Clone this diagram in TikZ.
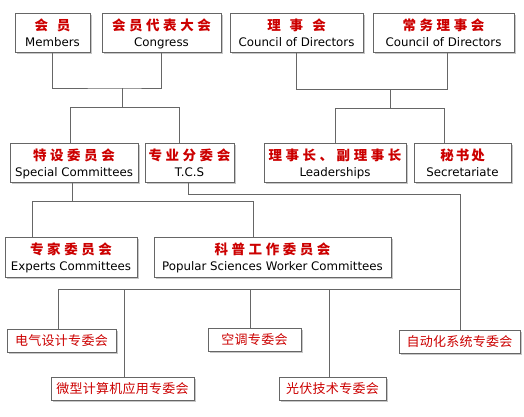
\documentclass[tikz,border=0pt]{standalone}
\usepackage{fontspec}
\usetikzlibrary{shadows}
\setmainfont{DejaVu Sans}
\newfontfamily\cnbold{Noto Sans CJK SC}[LetterSpace=26]
\newfontfamily\cnreg{Noto Sans CJK SC}[LetterSpace=2]
\definecolor{cnred}{HTML}{CC0000}
\definecolor{boxgray}{HTML}{666666}
\newcommand{\zh}[1]{\raisebox{0pt}[11pt][0pt]{\color{cnred}\fontsize{13.5}{16}\cnbold\bfseries #1}}
\newcommand{\en}[1]{\raisebox{0pt}[9pt][0pt]{\fontsize{11.8}{16}\selectfont #1}}
\newcommand{\zs}[1]{\raisebox{0pt}[9.8pt][0pt]{\color{cnred}\fontsize{13}{15}\cnreg #1}}
\tikzset{
  box/.style={draw=boxgray, line width=1pt, fill=white, inner sep=0pt, align=center,
    font=\fontsize{11.8}{16}\selectfont,
    drop shadow={shadow xshift=1.8pt, shadow yshift=-1.8pt, fill=black!22, opacity=1}},
  bsize/.style 2 args={minimum width=#1pt, minimum height=#2pt},
  conn/.style={draw=boxgray, line width=1pt},
}
\begin{document}
\begin{tikzpicture}[x=1pt,y=-1pt]
\useasboundingbox[fill=white] (0,0) rectangle (524,416);
% top row
\node[box, bsize={75}{39}] (mem) at (52.5,32.5) {\zh{会\hspace{9pt}员}\\\en{Members}};
\node[box, bsize={119}{39}] (con) at (161.5,32.5) {\zh{会员代表大会}\\\en{Congress}};
\node[box, bsize={133}{39}] (cd1) at (296.5,32.5) {\zh{理\hspace{9pt}事\hspace{9pt}会}\\\en{Council of Directors}};
\node[box, bsize={141}{39}] (cd2) at (443.5,32.5) {\zh{常务理事会}\\\en{Council of Directors}};
% second row
\node[box, bsize={128}{39}] (spec) at (74,162.5) {\zh{特设委员会}\\\en{Special Committees}};
\node[box, bsize={89}{39}] (tcs) at (189.5,162.5) {\zh{专业分委会}\\\en{T.C.S}};
\node[box, bsize={142}{39}] (lead) at (335,162.5) {\zh{理事长、副理事长}\\\en{Leaderships}};
\node[box, bsize={97}{39}] (sec) at (462.5,162.5) {\zh{秘\hspace{2pt}书\hspace{2pt}处}\\\en{Secretariate}};
% third row
\node[box, bsize={132}{40}] (exp) at (71,257) {\zh{专家委员会}\\\en{Experts Committees}};
\node[box, bsize={237}{40}] (pop) at (272.5,257) {\zh{科普工作委员会}\\\en{Popular Sciences Worker Committees}};
% bottom row
\node[box, bsize={109}{23}] (d1) at (61.5,340.5) {\zs{电气设计专委会}};
\node[box, bsize={143}{23}] (d2) at (122.5,388.5) {\zs{微型计算机应用专委会}};
\node[box, bsize={93}{23}] (d3) at (254.5,339.5) {\zs{空调专委会}};
\node[box, bsize={107}{23}] (d4) at (332.5,388.5) {\zs{光伏技术专委会}};
\node[box, bsize={121}{23}] (d5) at (459.5,341.5) {\zs{自动化系统专委会}};
% junction coordinates
\coordinate (jA) at (122,88);
\coordinate (jB) at (122,107);
\coordinate (sL) at (70,107);
\coordinate (sR) at (179,107);
\coordinate (jC) at (390,89);
\coordinate (jD) at (390,108);
\coordinate (c2x) at (447,89);
\coordinate (lL) at (335,108);
\coordinate (lR) at (444,108);
\coordinate (tA) at (188,194);
\coordinate (tB) at (460,194);
\coordinate (tC) at (460,289);
\coordinate (bL) at (58,289);
\coordinate (b2) at (124,289);
\coordinate (b3) at (250,289);
\coordinate (b4) at (329,289);
\coordinate (pA) at (72,201);
\coordinate (pL) at (32,201);
\coordinate (pR) at (253,201);
% connectors
\draw[conn] (mem.south) |- (jA) -| (con.south);
\draw[conn] (jA) -- (jB);
\draw[conn] (sL |- spec.north) |- (sR) -- (sR |- tcs.north);
\draw[conn] (cd1.south) |- (c2x) -- (c2x |- cd2.south);
\draw[conn] (jC) -- (jD);
\draw[conn] (lL |- lead.north) |- (lR) -- (lR |- sec.north);
\draw[conn] (tA |- tcs.south) -- (tA) -- (tB) -- (tB |- d5.north);
\draw[conn] (bL |- d1.north) |- (tC);
\draw[conn] (b2) -- (b2 |- d2.north);
\draw[conn] (b3) -- (b3 |- d3.north);
\draw[conn] (b4) -- (b4 |- d4.north);
\draw[conn] (pA |- spec.south) -- (pA);
\draw[conn] (pL |- exp.north) |- (pR) -- (pR |- pop.north);
\end{tikzpicture}
\end{document}
